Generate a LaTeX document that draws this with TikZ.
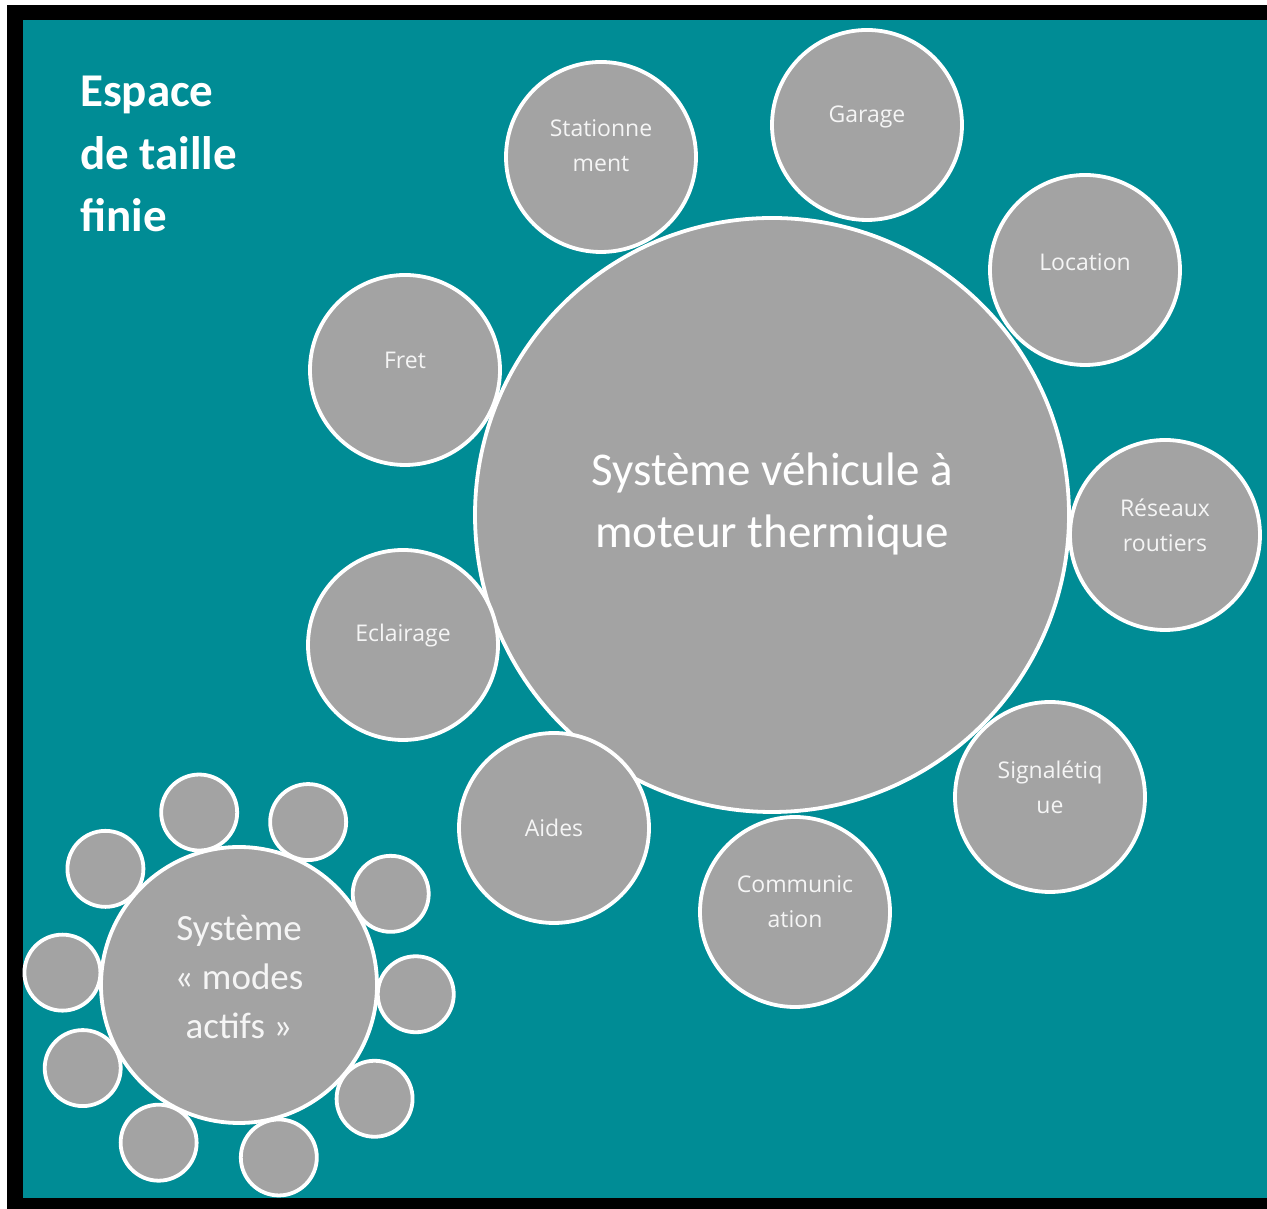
\documentclass[tikz,border=0pt]{standalone}
\usepackage{fontspec}
\setmainfont{Carlito}
\newfontfamily\bubblefont{Open Sans}
\usetikzlibrary{calc}

\definecolor{seateal}{RGB}{0, 140, 149}
\definecolor{bubblegray}{RGB}{163, 163, 163}
\definecolor{softwhite}{RGB}{245, 245, 245}

\tikzset{
    bubble/.style={
        circle, draw=white, fill=bubblegray,
        line width=3.8pt, inner sep=0pt, minimum size=#1
    },
    sattext/.style={
        font=\bubblefont\fontsize{23}{35}\selectfont,
        text=softwhite, align=center, inner sep=0pt
    },
    bigtext/.style={
        font=\fontsize{47}{62}\selectfont,
        text=white, align=center, inner sep=0pt
    },
    actiftext/.style={
        font=\fontsize{37}{49}\selectfont,
        text=softwhite, align=center, inner sep=0pt
    },
    titletext/.style={
        font=\bfseries\fontsize{47}{62.5}\selectfont,
        text=white, align=left, inner sep=0pt
    }
}

\begin{document}
\begin{tikzpicture}[x=1pt, y=1pt]
    \useasboundingbox (0,0) rectangle (1267,1209);

    % Frame and background
    \fill[white] (0,0) rectangle (1267,1209);
    \fill[black] (7,0) rectangle (1267,1204);
    \fill[seateal] (23,11) rectangle (1267,1189);

    \node[titletext, anchor=base west] (title) at (80,977) {Espace\\de taille\\finie};

    % Central system
    \node[bubble=594pt] (vehicule) at (772,694) {};
    \node[bigtext] (vehicule-t) at ([yshift=11pt]vehicule.center) {Système véhicule à\\moteur thermique};

    % Satellites around it
    \node[bubble=190pt] (station) at (601,1052) {};
    \node[bubble=190pt] (garage) at (867,1084) {};
    \node[bubble=190pt] (location) at (1085,939) {};
    \node[bubble=190pt] (reseaux) at (1165,674) {};
    \node[bubble=190pt] (signal) at (1050,412) {};
    \node[bubble=190pt] (comm) at (795,297) {};
    \node[bubble=190pt] (aides) at (554,381) {};
    \node[bubble=190pt] (eclairage) at (403,564) {};
    \node[bubble=190pt] (fret) at (405,839) {};

    \node[sattext] (station-t) at ([yshift=11pt]station.center) {Stationne\\ment};
    \node[sattext] (garage-t) at ([yshift=8pt]garage.center) {Garage};
    \node[sattext] (location-t) at ([yshift=8pt]location.center) {Location};
    \node[sattext] (reseaux-t) at ([yshift=10pt]reseaux.center) {Réseaux\\routiers};
    \node[sattext] (signal-t) at ([yshift=10pt]signal.center) {Signalétiq\\ue};
    \node[sattext] (comm-t) at ([yshift=10pt]comm.center) {Communic\\ation};
    \node[sattext] (aides-t) at (aides.center) {Aides};
    \node[sattext] (eclairage-t) at ([yshift=9pt]eclairage.center) {Eclairage};
    \node[sattext] (fret-t) at ([yshift=10pt]fret.center) {Fret};

    % Active modes system
    \node[bubble=276pt] (actifs) at (239,224) {};
    \node[actiftext] (actifs-t) at ([yshift=8pt]actifs.center) {Système\\«~modes\\actifs~»};
    \foreach \ang [count=\i] in {103,67,31,-3,-40,-77,-117,-152,176,139}
        \node[bubble=76pt] (actif-\i) at ($(actifs)+(\ang:177)$) {};

\end{tikzpicture}
\end{document}
